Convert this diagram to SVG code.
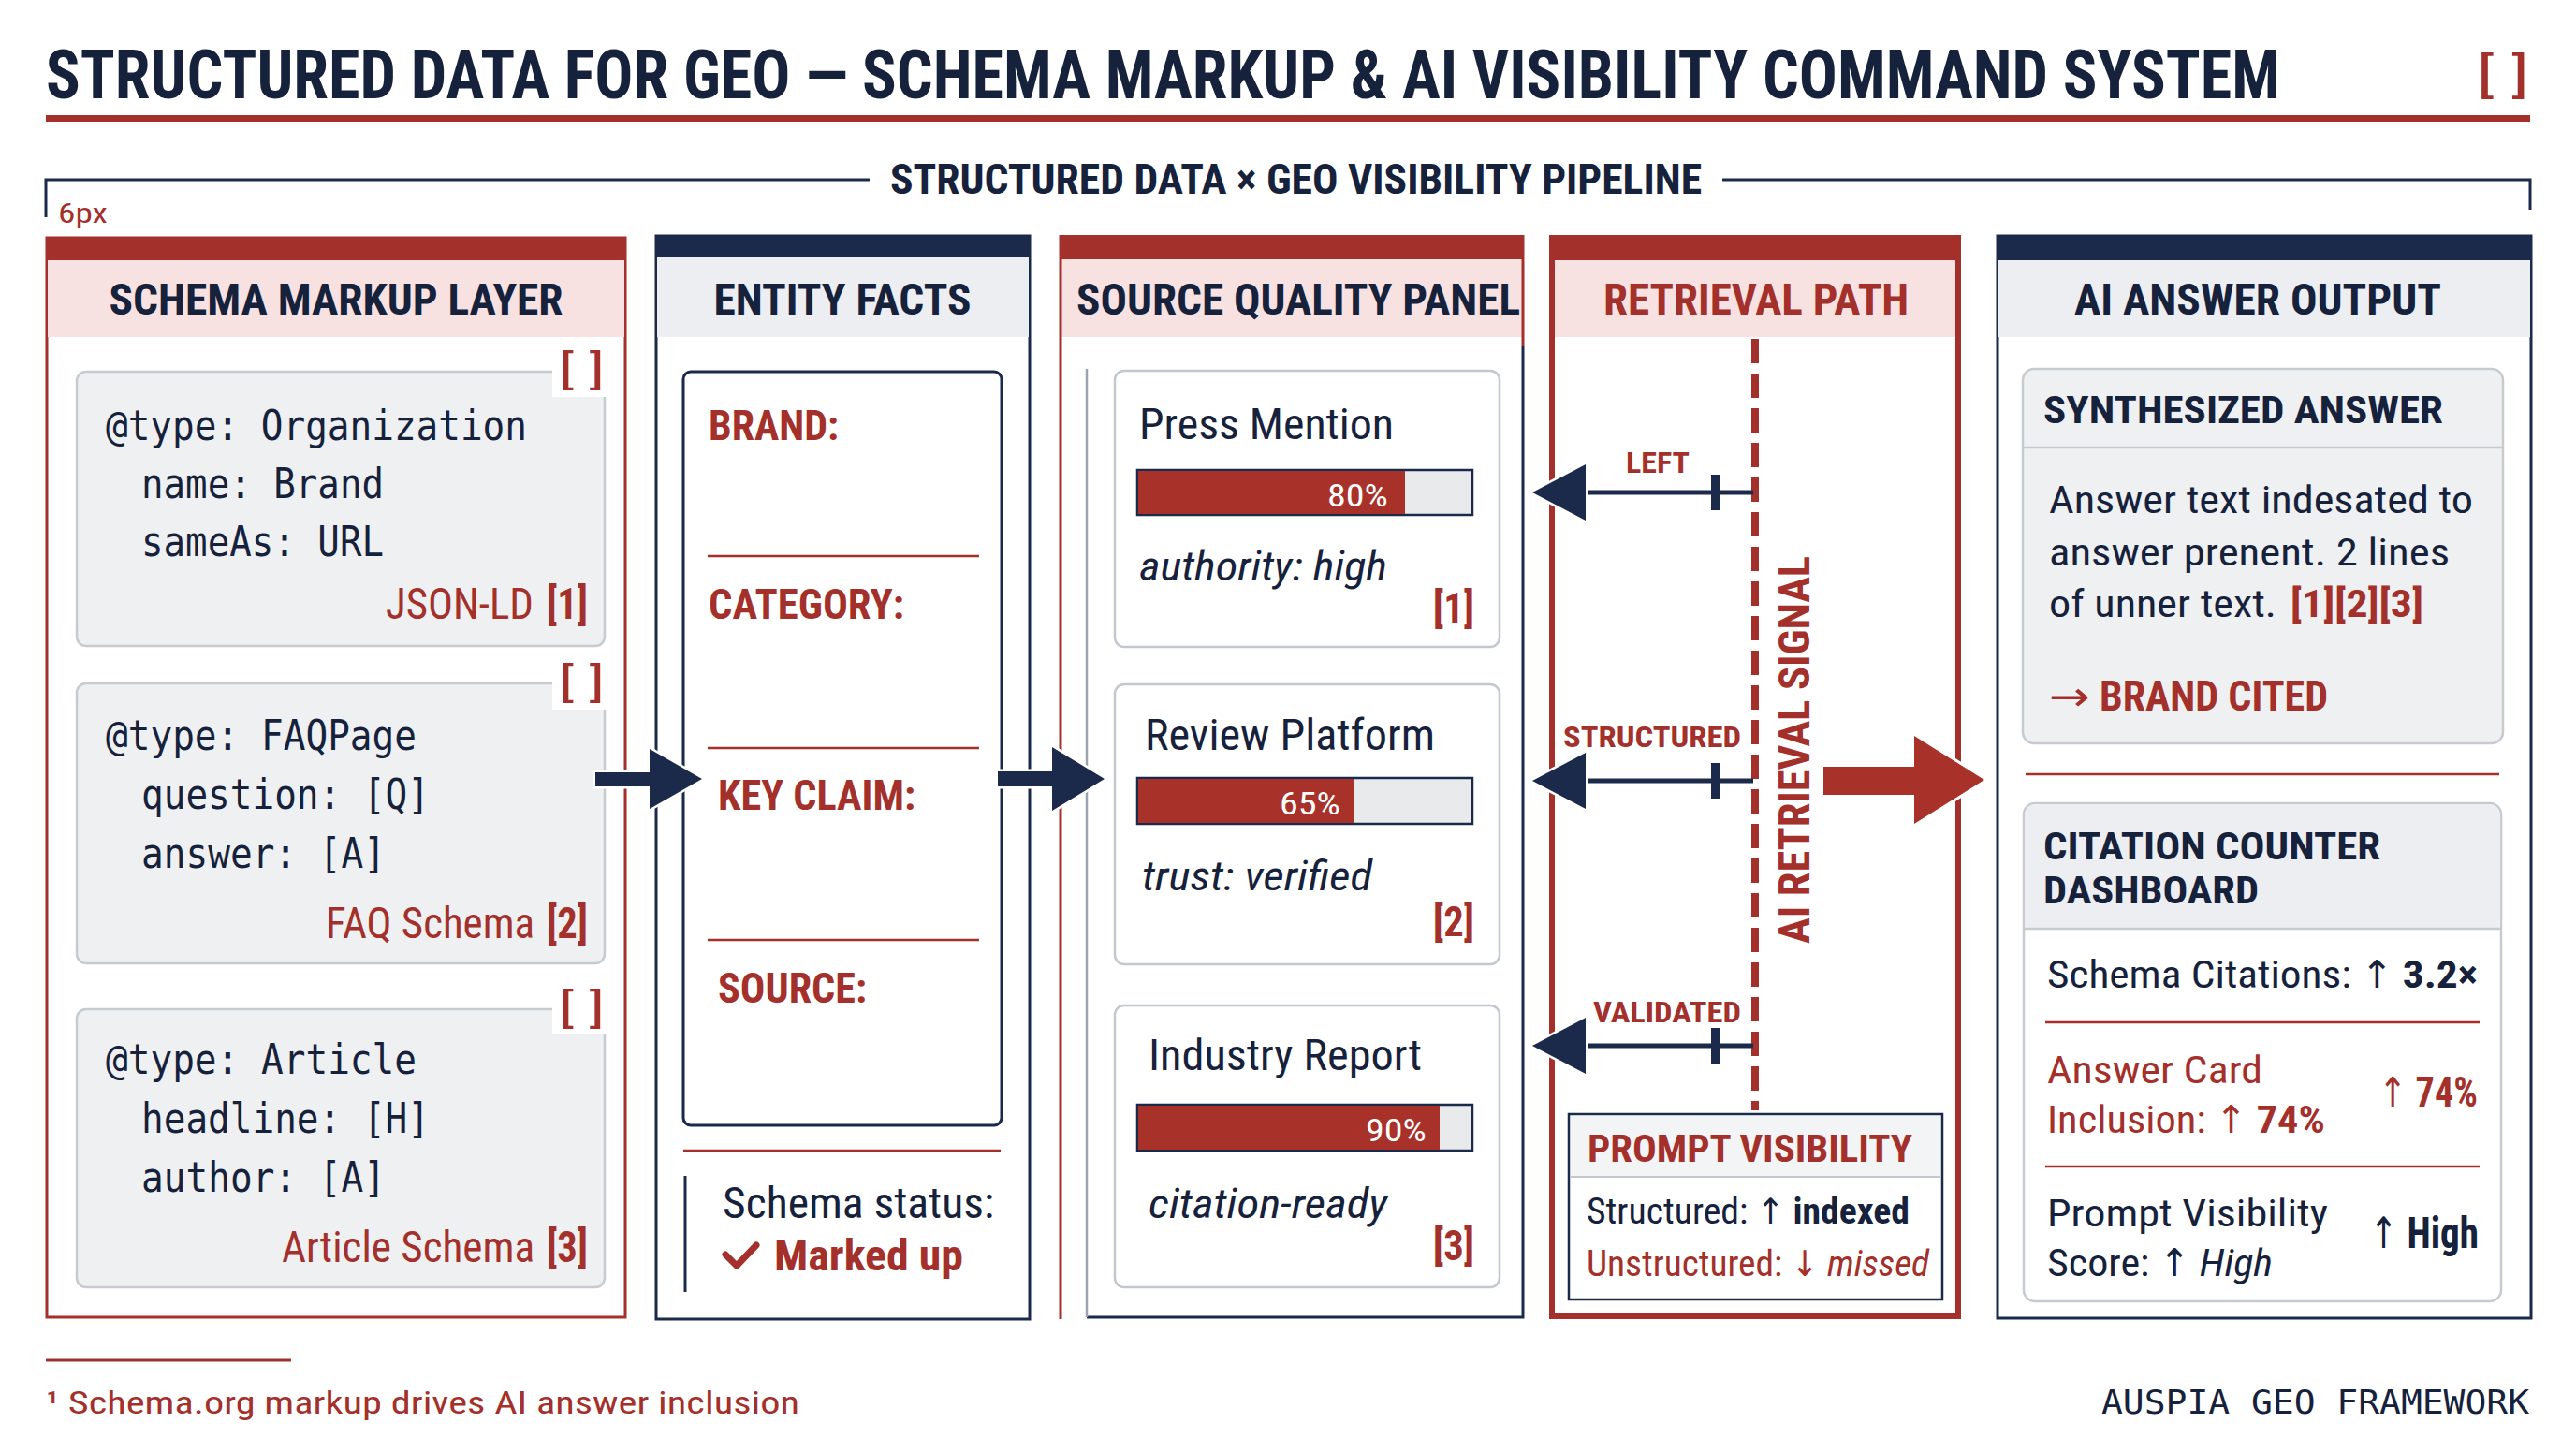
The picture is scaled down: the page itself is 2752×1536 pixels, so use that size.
<svg xmlns="http://www.w3.org/2000/svg" width="2752" height="1536" viewBox="0 0 2752 1536">
<style>
text{font-family:Roboto,"Liberation Sans","DejaVu Sans",sans-serif;font-stretch:condensed;fill:#16213b}
.mono{font-family:"DejaVu Sans Mono","Liberation Mono",monospace;font-stretch:normal;fill:#16213b}
.b{font-weight:700}
.i{font-style:italic}
.red{fill:#a3302a}
.wht{fill:#ffffff}
.mid{text-anchor:middle}
.ar{font-family:"DejaVu Sans",sans-serif;font-weight:400;font-style:normal}
.card{fill:#eef0f2;stroke:#c6cbd2;stroke-width:2.5}
.wcard{fill:#ffffff;stroke:#c3c8cf;stroke-width:2.5}
.rline{stroke:#a3302a;stroke-width:2.5;fill:none}
.nline{stroke:#1b2a4a;fill:none}
.pink{fill:#f7e2e1}
.grayband{fill:#eceef1}
.bar{fill:#e9eaec;stroke:#1b2a4a;stroke-width:2.5}
.barfill{fill:#a8312a}
.arrow{fill:#1b2a4a;stroke:#ffffff;stroke-width:5;paint-order:stroke}
</style>

<!-- Title -->
<g id="title">
<text x="49" y="105" class="b" font-size="72" textLength="2387" lengthAdjust="spacingAndGlyphs" fill="#101a33">STRUCTURED DATA FOR GEO — SCHEMA MARKUP &amp; AI VISIBILITY COMMAND SYSTEM</text>
<text x="2646" y="98" class="red" font-size="52" textLength="56" lengthAdjust="spacingAndGlyphs">[ ]</text>
<rect x="49" y="123" width="2654" height="7" fill="#a3302a"/>
</g>

<!-- Pipeline header -->
<g id="pipeline-header">
<path d="M49,232 V192 H929 M1840,192 H2703 V224" class="nline" stroke-width="3"/>
<text x="951" y="207" class="b" font-size="44" textLength="867" lengthAdjust="spacingAndGlyphs" fill="#1b2a4a">STRUCTURED DATA × GEO VISIBILITY PIPELINE</text>
<text x="62" y="238" class="red" font-size="30" textLength="53" lengthAdjust="spacingAndGlyphs">6px</text>
</g>

<!-- Column 1: Schema markup layer -->
<g id="schema-markup-layer">
<rect x="50" y="254" width="618" height="1153" fill="#ffffff" stroke="#a3302a" stroke-width="3"/>
<rect x="49" y="253" width="620" height="25" fill="#a3302a"/>
<rect x="51" y="278" width="616" height="82" class="pink"/>
<text x="359" y="336" class="b mid" font-size="46" textLength="485" lengthAdjust="spacingAndGlyphs">SCHEMA MARKUP LAYER</text>

<g id="card-organization">
<rect x="82" y="397" width="564" height="293" rx="10" class="card"/>
<rect x="590" y="374" width="64" height="50" fill="#ffffff"/>
<text x="597" y="410" class="red" font-size="44" textLength="49" lengthAdjust="spacingAndGlyphs">[ ]</text>
<text x="113" y="470" class="mono" font-size="44" textLength="450" lengthAdjust="spacingAndGlyphs">@type: Organization</text>
<text x="151" y="532" class="mono" font-size="44" textLength="259" lengthAdjust="spacingAndGlyphs">name: Brand</text>
<text x="151" y="594" class="mono" font-size="44" textLength="259" lengthAdjust="spacingAndGlyphs">sameAs: URL</text>
<text x="412" y="661" class="red" font-size="46" textLength="158" lengthAdjust="spacingAndGlyphs">JSON-LD</text>
<text x="584" y="661" class="b red" font-size="46" textLength="44" lengthAdjust="spacingAndGlyphs">[1]</text>
</g>

<g id="card-faqpage">
<rect x="82" y="730" width="564" height="299" rx="10" class="card"/>
<rect x="590" y="708" width="64" height="50" fill="#ffffff"/>
<text x="597" y="744" class="red" font-size="44" textLength="49" lengthAdjust="spacingAndGlyphs">[ ]</text>
<text x="113" y="801" class="mono" font-size="44" textLength="332" lengthAdjust="spacingAndGlyphs">@type: FAQPage</text>
<text x="151" y="864" class="mono" font-size="44" textLength="308" lengthAdjust="spacingAndGlyphs">question: [Q]</text>
<text x="151" y="927" class="mono" font-size="44" textLength="261" lengthAdjust="spacingAndGlyphs">answer: [A]</text>
<text x="348" y="1002" class="red" font-size="46" textLength="223" lengthAdjust="spacingAndGlyphs">FAQ Schema</text>
<text x="584" y="1002" class="b red" font-size="46" textLength="44" lengthAdjust="spacingAndGlyphs">[2]</text>
</g>

<g id="card-article">
<rect x="82" y="1078" width="564" height="297" rx="10" class="card"/>
<rect x="590" y="1054" width="64" height="50" fill="#ffffff"/>
<text x="597" y="1092" class="red" font-size="44" textLength="49" lengthAdjust="spacingAndGlyphs">[ ]</text>
<text x="113" y="1147" class="mono" font-size="44" textLength="332" lengthAdjust="spacingAndGlyphs">@type: Article</text>
<text x="151" y="1210" class="mono" font-size="44" textLength="308" lengthAdjust="spacingAndGlyphs">headline: [H]</text>
<text x="151" y="1273" class="mono" font-size="44" textLength="261" lengthAdjust="spacingAndGlyphs">author: [A]</text>
<text x="301" y="1348" class="red" font-size="46" textLength="270" lengthAdjust="spacingAndGlyphs">Article Schema</text>
<text x="584" y="1348" class="b red" font-size="46" textLength="44" lengthAdjust="spacingAndGlyphs">[3]</text>
</g>
</g>

<!-- Column 2: Entity facts -->
<g id="entity-facts">
<rect x="701" y="252" width="399" height="1157" fill="#ffffff" stroke="#1b2a4a" stroke-width="3"/>
<rect x="700" y="251" width="401" height="24" fill="#1b2a4a"/>
<rect x="702" y="275" width="397" height="85" class="grayband"/>
<text x="900" y="336" class="b mid" font-size="46" textLength="275" lengthAdjust="spacingAndGlyphs">ENTITY FACTS</text>
<rect x="730" y="397" width="340" height="805" rx="8" fill="#ffffff" stroke="#1b2a4a" stroke-width="3"/>
<text x="757" y="470" class="b red" font-size="44" textLength="139" lengthAdjust="spacingAndGlyphs">BRAND:</text>
<line x1="756" y1="594" x2="1046" y2="594" class="rline"/>
<text x="757" y="661" class="b red" font-size="44" textLength="209" lengthAdjust="spacingAndGlyphs">CATEGORY:</text>
<line x1="756" y1="799" x2="1046" y2="799" class="rline"/>
<text x="767" y="865" class="b red" font-size="44" textLength="211" lengthAdjust="spacingAndGlyphs">KEY CLAIM:</text>
<line x1="756" y1="1004" x2="1046" y2="1004" class="rline"/>
<text x="767" y="1071" class="b red" font-size="44" textLength="159" lengthAdjust="spacingAndGlyphs">SOURCE:</text>
<line x1="730" y1="1229" x2="1069" y2="1229" class="rline"/>
<line x1="732" y1="1256" x2="732" y2="1380" class="nline" stroke-width="3"/>
<text x="772" y="1301" font-size="46" textLength="290" lengthAdjust="spacingAndGlyphs">Schema status:</text>
<path d="M775,1340 L787,1352 L808,1330" fill="none" stroke="#a3302a" stroke-width="7" stroke-linecap="round" stroke-linejoin="round"/>
<text x="827" y="1357" class="b red" font-size="46" textLength="202" lengthAdjust="spacingAndGlyphs">Marked up</text>
</g>

<!-- Column 3: Source quality panel -->
<g id="source-quality-panel">
<rect x="1132" y="251" width="496" height="1157" fill="#ffffff"/>
<rect x="1132" y="251" width="496" height="26" fill="#a3302a"/>
<rect x="1133" y="277" width="494" height="83" class="pink"/>
<line x1="1133" y1="251" x2="1133" y2="1409" stroke="#a3302a" stroke-width="3"/>
<line x1="1627" y1="251" x2="1627" y2="370" stroke="#a3302a" stroke-width="3"/>
<path d="M1627,370 V1407 H1161" class="nline" stroke-width="3"/>
<line x1="1161" y1="394" x2="1161" y2="1407" stroke="#9aa3b0" stroke-width="2.5"/>
<text x="1150" y="336" class="b" font-size="46" textLength="474" lengthAdjust="spacingAndGlyphs">SOURCE QUALITY PANEL</text>

<g id="press-mention">
<rect x="1191" y="396" width="411" height="295" rx="10" class="wcard"/>
<text x="1217" y="469" font-size="46" textLength="272" lengthAdjust="spacingAndGlyphs">Press Mention</text>
<rect x="1215" y="502" width="358" height="48" class="bar"/>
<rect x="1216" y="503" width="285" height="46" class="barfill"/>
<text x="1418" y="541" class="wht" font-size="34" textLength="65" lengthAdjust="spacingAndGlyphs">80%</text>
<text x="1217" y="620" class="i" font-size="44" textLength="265" lengthAdjust="spacingAndGlyphs">authority: high</text>
<text x="1531" y="665" class="b red" font-size="44" textLength="44" lengthAdjust="spacingAndGlyphs">[1]</text>
</g>
<g id="review-platform">
<rect x="1191" y="731" width="411" height="299" rx="10" class="wcard"/>
<text x="1223" y="801" font-size="46" textLength="310" lengthAdjust="spacingAndGlyphs">Review Platform</text>
<rect x="1215" y="831" width="358" height="49" class="bar"/>
<rect x="1216" y="832" width="230" height="47" class="barfill"/>
<text x="1367" y="870" class="wht" font-size="34" textLength="65" lengthAdjust="spacingAndGlyphs">65%</text>
<text x="1220" y="951" class="i" font-size="44" textLength="246" lengthAdjust="spacingAndGlyphs">trust: verified</text>
<text x="1531" y="1000" class="b red" font-size="44" textLength="44" lengthAdjust="spacingAndGlyphs">[2]</text>
</g>
<g id="industry-report">
<rect x="1191" y="1074" width="411" height="301" rx="10" class="wcard"/>
<text x="1227" y="1143" font-size="46" textLength="292" lengthAdjust="spacingAndGlyphs">Industry Report</text>
<rect x="1215" y="1180" width="358" height="49" class="bar"/>
<rect x="1216" y="1181" width="322" height="47" class="barfill"/>
<text x="1459" y="1219" class="wht" font-size="34" textLength="65" lengthAdjust="spacingAndGlyphs">90%</text>
<text x="1227" y="1301" class="i" font-size="44" textLength="255" lengthAdjust="spacingAndGlyphs">citation-ready</text>
<text x="1531" y="1346" class="b red" font-size="44" textLength="44" lengthAdjust="spacingAndGlyphs">[3]</text>
</g>
</g>

<!-- Column 4: Retrieval path -->
<g id="retrieval-path">
<rect x="1658" y="254" width="434" height="1152" fill="#ffffff" stroke="#a3302a" stroke-width="6"/>
<rect x="1655" y="251" width="440" height="27" fill="#a3302a"/>
<rect x="1661" y="278" width="428" height="82" class="pink"/>
<text x="1876" y="336" class="b red mid" font-size="46" textLength="326" lengthAdjust="spacingAndGlyphs">RETRIEVAL PATH</text>
<line x1="1875" y1="362" x2="1875" y2="1186" stroke="#a3302a" stroke-width="8" stroke-dasharray="26 11"/>
<text transform="translate(1933,801) rotate(-90)" x="0" y="0" class="b red mid" font-size="46" textLength="414" lengthAdjust="spacingAndGlyphs">AI RETRIEVAL SIGNAL</text>

<g id="prompt-visibility">
<rect x="1676" y="1190" width="399" height="198" fill="#ffffff" stroke="#1b2a4a" stroke-width="2.5"/>
<rect x="1678" y="1192" width="395" height="65" fill="#f3f4f6"/>
<line x1="1678" y1="1257" x2="2073" y2="1257" stroke="#c3c8cf" stroke-width="2"/>
<text x="1696" y="1241" class="b red" font-size="40" textLength="347" lengthAdjust="spacingAndGlyphs">PROMPT VISIBILITY</text>
<text x="1695" y="1307" font-size="38" textLength="345" lengthAdjust="spacingAndGlyphs">Structured: <tspan class="ar">↑</tspan> <tspan class="b">indexed</tspan></text>
<text x="1695" y="1363" class="red" font-size="38" textLength="366" lengthAdjust="spacingAndGlyphs">Unstructured: <tspan class="ar">↓</tspan> <tspan class="i">missed</tspan></text>
</g>
</g>

<!-- Column 5: AI answer output -->
<g id="ai-answer-output">
<rect x="2134" y="252" width="570" height="1156" fill="#ffffff" stroke="#1b2a4a" stroke-width="3"/>
<rect x="2133" y="251" width="572" height="27" fill="#1b2a4a"/>
<rect x="2135" y="278" width="568" height="82" class="grayband"/>
<text x="2412" y="336" class="b mid" font-size="46" textLength="392" lengthAdjust="spacingAndGlyphs">AI ANSWER OUTPUT</text>

<g id="synthesized-answer">
<rect x="2161" y="394" width="513" height="400" rx="12" class="card"/>
<line x1="2162" y1="478" x2="2673" y2="478" stroke="#c6cbd2" stroke-width="2.5"/>
<text x="2183" y="452" class="b" font-size="40" textLength="427" lengthAdjust="spacingAndGlyphs">SYNTHESIZED ANSWER</text>
<text x="2189" y="548" font-size="40" textLength="453" lengthAdjust="spacingAndGlyphs">Answer text indesated to</text>
<text x="2189" y="604" font-size="40" textLength="428" lengthAdjust="spacingAndGlyphs">answer prenent. 2 lines</text>
<text x="2189" y="659" font-size="40" textLength="243" lengthAdjust="spacingAndGlyphs">of unner text.</text>
<text x="2447" y="659" class="b red" font-size="40" textLength="142" lengthAdjust="spacingAndGlyphs">[1][2][3]</text>
<text x="2189" y="759" class="red" font-size="44" textLength="44" lengthAdjust="spacingAndGlyphs"><tspan class="ar">→</tspan></text>
<text x="2243" y="759" class="b red" font-size="44" textLength="244" lengthAdjust="spacingAndGlyphs">BRAND CITED</text>
</g>
<line x1="2164" y1="827" x2="2670" y2="827" class="rline"/>

<g id="citation-counter">
<rect x="2162" y="858" width="510" height="532" rx="12" fill="#ffffff" stroke="#c6cbd2" stroke-width="2.5"/>
<path d="M2163.25,992 V870 a10.75,10.75 0 0 1 10.75,-10.75 H2660 a10.75,10.75 0 0 1 10.75,10.75 V992 Z" fill="#eceef1"/>
<line x1="2163" y1="992" x2="2671" y2="992" stroke="#c6cbd2" stroke-width="2.5"/>
<text x="2183" y="918" class="b" font-size="40" textLength="360" lengthAdjust="spacingAndGlyphs">CITATION COUNTER</text>
<text x="2183" y="965" class="b" font-size="40" textLength="230" lengthAdjust="spacingAndGlyphs">DASHBOARD</text>
<text x="2187" y="1055" font-size="41" textLength="460" lengthAdjust="spacingAndGlyphs">Schema Citations: <tspan class="ar">↑</tspan> <tspan class="b">3.2×</tspan></text>
<line x1="2185" y1="1092" x2="2649" y2="1092" class="rline"/>
<text x="2187" y="1157" class="red" font-size="41" textLength="230" lengthAdjust="spacingAndGlyphs">Answer Card</text>
<text x="2187" y="1210" class="red" font-size="41" textLength="297" lengthAdjust="spacingAndGlyphs">Inclusion: <tspan class="ar">↑</tspan> <tspan class="b">74%</tspan></text>
<text x="2541" y="1182" class="red" font-size="44" textLength="106" lengthAdjust="spacingAndGlyphs"><tspan class="ar">↑</tspan> <tspan class="b">74%</tspan></text>
<line x1="2185" y1="1246" x2="2649" y2="1246" class="rline"/>
<text x="2187" y="1310" font-size="41" textLength="300" lengthAdjust="spacingAndGlyphs">Prompt Visibility</text>
<text x="2187" y="1363" font-size="41" textLength="241" lengthAdjust="spacingAndGlyphs">Score: <tspan class="ar">↑</tspan> <tspan class="i">High</tspan></text>
<text x="2531" y="1333" font-size="46" textLength="117" lengthAdjust="spacingAndGlyphs"><tspan class="ar">↑</tspan> <tspan class="b">High</tspan></text>
</g>
</g>

<!-- Connectors -->
<g id="connectors">
<path class="arrow" d="M636,825 H694 V800 L750,832 L694,864 V840 H636 Z"/>
<path class="arrow" d="M1066,824 H1124 V798 L1180,832 L1124,866 V840 H1066 Z"/>
<g id="left-arrows">
<line x1="1873" y1="526" x2="1690" y2="526" class="nline" stroke-width="5"/>
<path class="arrow" d="M1694,496 L1637,526 L1694,556 Z"/>
<rect x="1828" y="507" width="9" height="38" fill="#1b2a4a"/>
<text x="1737" y="505" class="b red" font-size="32" textLength="68" lengthAdjust="spacingAndGlyphs">LEFT</text>

<line x1="1873" y1="834" x2="1690" y2="834" class="nline" stroke-width="5"/>
<path class="arrow" d="M1694,804 L1637,834 L1694,864 Z"/>
<rect x="1828" y="815" width="9" height="38" fill="#1b2a4a"/>
<text x="1670" y="798" class="b red" font-size="32" textLength="190" lengthAdjust="spacingAndGlyphs">STRUCTURED</text>

<line x1="1873" y1="1117" x2="1690" y2="1117" class="nline" stroke-width="5"/>
<path class="arrow" d="M1694,1087 L1637,1117 L1694,1147 Z"/>
<rect x="1828" y="1098" width="9" height="38" fill="#1b2a4a"/>
<text x="1702" y="1092" class="b red" font-size="32" textLength="158" lengthAdjust="spacingAndGlyphs">VALIDATED</text>
</g>
<path d="M1948,819 H2045 V786 L2120,833 L2045,880 V849 H1948 Z" fill="#a8312a" stroke="#ffffff" stroke-width="6" paint-order="stroke"/>
</g>

<!-- Footer -->
<g id="footer">
<line x1="49" y1="1453" x2="311" y2="1453" stroke="#a3302a" stroke-width="3"/>
<text x="49" y="1510" class="red" font-size="34" textLength="805" lengthAdjust="spacingAndGlyphs">¹ Schema.org markup drives AI answer inclusion</text>
<text x="2245" y="1510" class="mono" font-size="36" textLength="457" lengthAdjust="spacingAndGlyphs">AUSPIA GEO FRAMEWORK</text>
</g>
</svg>
